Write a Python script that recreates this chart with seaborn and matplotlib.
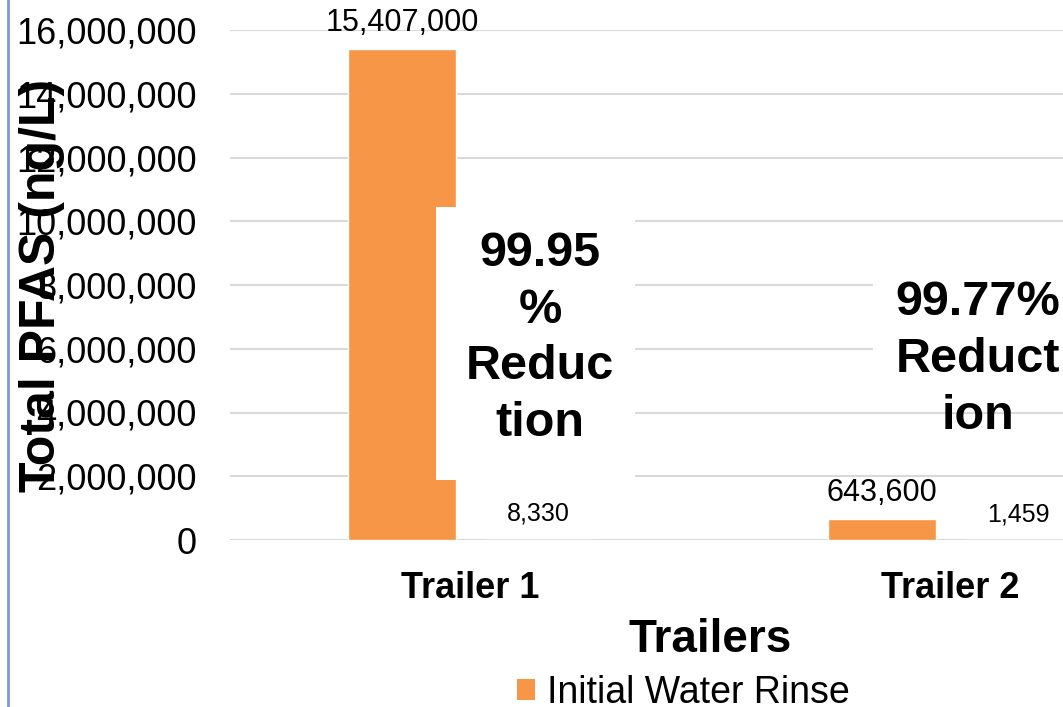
import matplotlib
matplotlib.use("Agg")
import matplotlib.pyplot as plt
import matplotlib.lines as mlines
import matplotlib.patches as mpatches
import seaborn as sns
import pandas as pd

# ---- data ----
trailers = ["Trailer 1", "Trailer 2"]
series_names = ["Initial Water Rinse", "Final Water Rinse"]
initial_vals = [15407000, 643600]
final_vals = [8330, 1459]
reduction_texts = ["99.95\n%\nReduc\ntion", "99.77%\nReduct\nion"]
y_ticks = [0, 2000000, 4000000, 6000000, 8000000, 10000000, 12000000, 14000000, 16000000]

df = pd.DataFrame({
    "Trailer": trailers * 2,
    "Series": [series_names[0]] * 2 + [series_names[1]] * 2,
    "Value": initial_vals + final_vals,
})

sns.set_theme(style="white")
plt.rcParams["font.family"] = ["Liberation Sans", "DejaVu Sans"]
for k in ["text.color", "axes.labelcolor", "xtick.color", "ytick.color"]:
    plt.rcParams[k] = "black"

W, H = 1063, 707
fig = plt.figure(figsize=(W / 100, H / 100), dpi=100)
fig.patch.set_facecolor("white")

# axes position in pixels: left 230, zero at y=540, top (16M) at y=30, right extends to 1190
ax = fig.add_axes([230 / W, (H - 540) / H, 960 / W, 510 / H])

sns.barplot(data=df, x="Trailer", y="Value", hue="Series", order=trailers,
            hue_order=series_names, palette=["#F79646", "#4F81BD"],
            width=0.567, gap=0.206, ax=ax, legend=False, saturation=1)

ax.set_xlim(-0.5, 1.5)
ax.set_ylim(0, 16000000)
ax.set_yticks(y_ticks)
ax.set_yticklabels([f"{v:,}" for v in y_ticks], fontsize=26)
ax.tick_params(axis="y", length=0, pad=24)
ax.tick_params(axis="x", length=0, pad=22)
for lab in ax.get_xticklabels():
    lab.set_fontsize(26)
    lab.set_fontweight("bold")

ax.grid(axis="y", color="#d9d9d9", linewidth=1.5)
ax.grid(axis="x", visible=False)
ax.set_axisbelow(True)
for s in ax.spines.values():
    s.set_visible(False)

ax.set_ylabel("Total PFAS (ng/L)", fontsize=36, fontweight="bold")
ax.yaxis.set_label_coords(-0.196, 0.5)
ax.yaxis.label.set_va("center")
ax.yaxis.label.set_zorder(10)
ax.set_xlabel("Trailers", fontsize=33, fontweight="bold")
ax.xaxis.set_label_coords(0.5, -0.196)
ax.xaxis.label.set_va("center")

# data labels
ax.bar_label(ax.containers[0], labels=[f"{v:,}" for v in initial_vals],
             padding=8, fontsize=22, color="black")
ax.bar_label(ax.containers[1], labels=[f"{v:,}" for v in final_vals],
             padding=10, fontsize=18, color="black")

# white text boxes with reduction text
ax.add_patch(mpatches.Rectangle((0.2146, 0.1176), 0.2073, 0.5353, transform=ax.transAxes,
                                facecolor="white", edgecolor="none", zorder=3, clip_on=False))
ax.add_patch(mpatches.Rectangle((0.6698, 0.2745), 0.25, 0.3373, transform=ax.transAxes,
                                facecolor="white", edgecolor="none", zorder=3, clip_on=False))
ax.text(0.3229, 0.395, reduction_texts[0], transform=ax.transAxes, ha="center", va="center",
        fontsize=35, fontweight="bold", linespacing=1.33, zorder=4)
ax.text(0.779, 0.354, reduction_texts[1], transform=ax.transAxes, ha="center", va="center",
        fontsize=35, fontweight="bold", linespacing=1.33, zorder=4)

# legend (only first entry visible)
handle = mpatches.Patch(facecolor="#F79646", edgecolor="none")
fig.legend([handle], [series_names[0]], loc="center", bbox_to_anchor=(683 / W, 1 - 693 / H),
           frameon=False, fontsize=27, handlelength=0.5, handleheight=0.5, handletextpad=0.3,
           borderpad=0)

# left border line
fig.add_artist(mlines.Line2D([8 / W, 8 / W], [0, 1], transform=fig.transFigure,
                             color="#7a9ccf", linewidth=2))

fig.savefig("out.png", dpi=100)
